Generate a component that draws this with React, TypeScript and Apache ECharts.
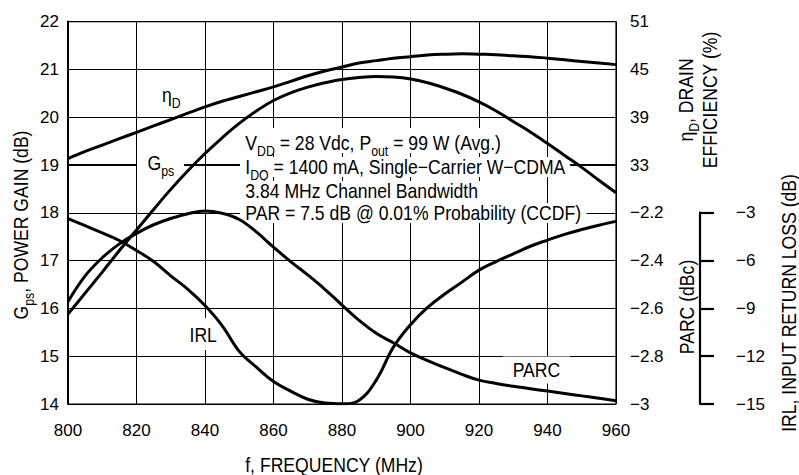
import React, { useEffect, useRef } from "react";
import * as echarts from "echarts";

// Frequency samples (MHz)
const frequencies = [
  800, 805, 810, 815, 820, 825, 830, 835, 840, 845, 850, 855, 860, 865, 870, 875, 880,
  885, 890, 895, 900, 905, 910, 915, 920, 925, 930, 935, 940, 945, 950, 955, 960,
];

// Gps, power gain (dB) — left axis
const gainValues = [
  15.88, 16.32, 16.76, 17.21, 17.64, 18.07, 18.49, 18.88, 19.24, 19.57, 19.87, 20.13, 20.35,
  20.51, 20.63, 20.72, 20.79, 20.83, 20.85, 20.84, 20.8, 20.72, 20.61, 20.48, 20.32, 20.13,
  19.91, 19.69, 19.45, 19.2, 18.95, 18.68, 18.42,
];

// ηD, drain efficiency (%) — right axis (top part)
const efficiencyValues = [
  33.8, 34.7, 35.5, 36.3, 37.1, 37.9, 38.7, 39.5, 40.3, 41.0, 41.6, 42.2, 42.8, 43.5, 44.2,
  44.8, 45.3, 45.8, 46.1, 46.4, 46.6, 46.8, 46.9, 46.95, 46.9, 46.85, 46.7, 46.6, 46.4, 46.2,
  46.0, 45.8, 45.6,
];

// PARC (dBc) — right axis (bottom part)
const parcValues = [
  -2.572, -2.464, -2.388, -2.33, -2.286, -2.25, -2.224, -2.204, -2.192, -2.202, -2.228, -2.28,
  -2.344, -2.404, -2.46, -2.52, -2.586, -2.65, -2.704, -2.744, -2.786, -2.818, -2.848, -2.876,
  -2.9, -2.914, -2.926, -2.936, -2.946, -2.956, -2.966, -2.976, -2.986,
];

// IRL, input return loss (dB) — separate right axis
const irlValues = [
  -3.36, -3.81, -4.26, -4.74, -5.37, -6.06, -6.96, -7.8, -8.82, -10.08, -11.7, -12.69, -13.59,
  -14.19, -14.7, -14.94, -14.99, -14.76, -13.5, -11.43, -10.02, -8.94, -8.1, -7.35, -6.6, -6.06,
  -5.58, -5.1, -4.71, -4.35, -4.05, -3.78, -3.54,
];

const FONT = '"Liberation Sans", Arial, Helvetica, sans-serif';
const BLACK = "#000";
const SX = 0.88; // horizontal condensing of drawn texts
const TICK_FONT = 17;
const BOX_Z = 3; // label masks sit above the grid but under the curves

const minus = (v: number) => {
  const r = Math.round(v * 10) / 10;
  return r < 0 ? "\u2212" + String(Math.abs(r)) : String(r);
};

export default function App() {
  const ref = useRef<HTMLDivElement>(null);

  useEffect(() => {
    document.body.style.margin = "0";
    const chart = echarts.init(ref.current!, null, { renderer: "svg" });
    const pairs = (vals: number[]) => frequencies.map((f, i) => [f, vals[i]]);

    const sub = { fontSize: 14, fontFamily: FONT, fill: BLACK, padding: [11, 0, 0, 0], verticalAlign: "top" as const, lineHeight: 14 };
    const base = { fontSize: 20, fontFamily: FONT, fill: BLACK, verticalAlign: "top" as const, lineHeight: 20 };
    const richDef = { b: base, s: sub };

    const lineText = (x: number, y: number, text: string, padding: number[]) => ({
      type: "text",
      x,
      y,
      scaleX: SX,
      z: BOX_Z,
      style: {
        text,
        rich: richDef,
        font: `20px ${FONT}`,
        fill: BLACK,
        align: "left",
        verticalAlign: "top",
        backgroundColor: "#fff",
        padding,
      },
    });

    const rotText = (x: number, y: number, text: string, rich?: any, lineHeight?: number) => ({
      type: "text",
      x,
      y,
      rotation: Math.PI / 2,
      scaleX: SX,
      z: 100,
      style: {
        text,
        rich,
        font: `20px ${FONT}`,
        fill: BLACK,
        align: "center",
        verticalAlign: "middle",
        lineHeight,
      },
    });

    const tickLabel = (extra: any) => ({
      color: BLACK,
      fontSize: TICK_FONT,
      fontFamily: FONT,
      ...extra,
    });

    chart.setOption({
      animation: false,
      backgroundColor: "#fff",
      textStyle: { fontFamily: FONT, color: BLACK },
      grid: [
        { left: 68, top: 21.6, width: 548, height: 382.4, show: true, borderColor: BLACK, borderWidth: 1.2 },
        { left: 700, top: 212.7, width: 10, height: 191.3, show: false },
      ],
      xAxis: [
        {
          type: "value",
          gridIndex: 0,
          min: 800,
          max: 960,
          interval: 20,
          axisLine: { lineStyle: { color: BLACK, width: 2 } },
          axisTick: { show: false },
          axisLabel: tickLabel({ margin: 18 }),
          splitLine: { lineStyle: { color: BLACK, width: 1 } },
        },
        { type: "value", gridIndex: 1, min: 0, max: 1, show: false },
      ],
      yAxis: [
        {
          type: "value",
          gridIndex: 0,
          position: "left",
          min: 14,
          max: 22,
          interval: 1,
          axisLine: { show: true, lineStyle: { color: BLACK, width: 2 } },
          axisTick: { show: false },
          axisLabel: tickLabel({ margin: 9 }),
          splitLine: { lineStyle: { color: BLACK, width: 1 } },
        },
        {
          type: "value",
          gridIndex: 0,
          position: "right",
          min: 3,
          max: 51,
          interval: 6,
          axisLine: { show: false },
          axisTick: { show: false },
          splitLine: { show: false },
          axisLabel: tickLabel({
            margin: 14,
            formatter: (v: number) => (v >= 32.9 ? String(Math.round(v)) : ""),
          }),
        },
        {
          type: "value",
          gridIndex: 0,
          position: "right",
          min: -3,
          max: -1.4,
          interval: 0.2,
          axisLine: { show: false },
          axisTick: { show: false },
          splitLine: { show: false },
          axisLabel: tickLabel({
            margin: 14,
            formatter: (v: number) => (v <= -2.19 ? minus(v) : ""),
          }),
        },
        {
          type: "value",
          gridIndex: 0,
          min: -15,
          max: 9,
          show: false,
        },
        {
          type: "value",
          gridIndex: 1,
          position: "right",
          min: -15,
          max: -3,
          interval: 3,
          axisLine: { show: true, lineStyle: { color: BLACK, width: 2.2 } },
          axisTick: { show: true, inside: false, length: 14, lineStyle: { color: BLACK, width: 2.2 } },
          splitLine: { show: false },
          axisLabel: tickLabel({
            margin: 26,
            formatter: (v: number) => minus(v),
          }),
        },
      ],
      series: [
        {
          name: "Gps",
          type: "line",
          xAxisIndex: 0,
          yAxisIndex: 0,
          data: pairs(gainValues),
          showSymbol: false,
          symbol: "none",
          smooth: 0.4,
          lineStyle: { color: BLACK, width: 3 },
          z: 5,
        },
        {
          name: "ηD",
          type: "line",
          xAxisIndex: 0,
          yAxisIndex: 1,
          data: pairs(efficiencyValues),
          showSymbol: false,
          symbol: "none",
          smooth: 0.4,
          lineStyle: { color: BLACK, width: 3 },
          z: 5,
        },
        {
          name: "PARC",
          type: "line",
          xAxisIndex: 0,
          yAxisIndex: 2,
          data: pairs(parcValues),
          showSymbol: false,
          symbol: "none",
          smooth: 0.4,
          lineStyle: { color: BLACK, width: 3 },
          z: 5,
        },
        {
          name: "IRL",
          type: "line",
          xAxisIndex: 0,
          yAxisIndex: 3,
          data: pairs(irlValues),
          showSymbol: false,
          symbol: "none",
          smooth: 0.4,
          lineStyle: { color: BLACK, width: 3 },
          z: 5,
        },
      ],
      graphic: [
        // annotation block (each line masks the grid behind it)
        lineText(240, 128, "{b|V}{s|DD}{b| = 28 Vdc, P}{s|out}{b| = 99 W (Avg.)}", [5, 5, 0, 6]),
        lineText(240, 157, "{b|I}{s|DQ}{b| = 1400 mA, Single\u2212Carrier W\u2212CDMA}", [0, 5, 0, 6]),
        lineText(240, 181, "{b|3.84 MHz Channel Bandwidth}", [0, 5, 2, 6]),
        lineText(240, 203, "{b|PAR = 7.5 dB @ 0.01% Probability (CCDF)}", [0, 6, 0, 6]),
        // curve labels
        lineText(162, 85, "{b|\u03b7}{s|D}", [0, 0, 0, 0]),
        lineText(137, 153, "{b|G}{s|ps}", [0, 11, 0, 12]),
        { type: "text", x: 186, y: 318, scaleX: SX, z: BOX_Z, style: { text: "IRL", font: `20px ${FONT}`, fill: BLACK, backgroundColor: "#fff", padding: [7, 4, 5, 4], align: "left", verticalAlign: "top" } },
        { type: "text", x: 503, y: 356.5, scaleX: SX, z: BOX_Z, style: { text: "PARC", font: `20px ${FONT}`, fill: BLACK, backgroundColor: "#fff", padding: [4, 11, 3, 11], align: "left", verticalAlign: "top" } },
        // axis titles
        { type: "text", x: 334, y: 465, scaleX: SX, z: 100, style: { text: "f, FREQUENCY (MHz)", font: `20px ${FONT}`, fill: BLACK, align: "center", verticalAlign: "middle" } },
        rotText(21, 225, "{b|G}{s|ps}{b|, POWER GAIN (dB)}", richDef),
        rotText(700, 100, "{b|\u03b7}{s|D}{b|, DRAIN}\n{b|EFFICIENCY (%)}", { b: { ...base, lineHeight: 24 }, s: { ...sub } }, 24),
        rotText(687, 307, "PARC (dBc)"),
        rotText(789, 303, "IRL, INPUT RETURN LOSS (dB)"),
      ],
    });

    return () => chart.dispose();
  }, []);

  return <div ref={ref} style={{ width: 799, height: 475 }} />;
}
